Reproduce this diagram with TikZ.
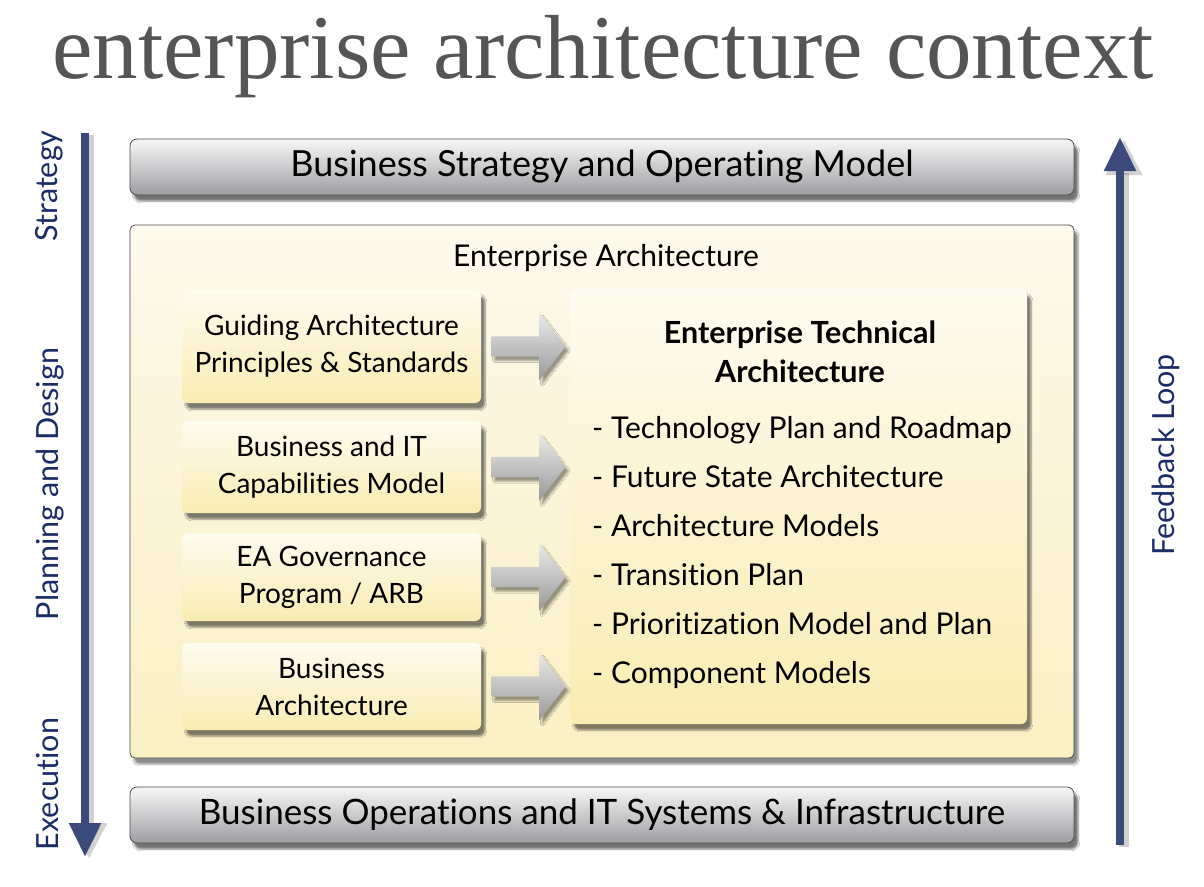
\documentclass[tikz,border=0pt]{standalone}
\usepackage{fontspec}
\setmainfont{Liberation Serif}
\newfontfamily\boxfont[Ligatures=NoCommon]{Lato}
\usepackage{tikz}
\usetikzlibrary{arrows.meta,shapes.arrows,shadows.blur,calc}

\definecolor{navy}{RGB}{58,74,122}
\definecolor{navytext}{RGB}{26,44,104}
\definecolor{titlegrey}{RGB}{85,85,85}
\definecolor{bartop}{RGB}{247,247,248}
\definecolor{barbot}{RGB}{158,158,162}
\definecolor{eatop}{RGB}{253,249,236}
\definecolor{eabot}{RGB}{250,240,196}
\definecolor{boxtop}{RGB}{254,251,240}
\definecolor{boxbot}{RGB}{249,236,178}

\begin{document}
\begin{tikzpicture}[x=1pt,y=-1pt,
		bar/.style={rounded corners=7, draw=black!70, line width=0.8pt, top color=bartop, bottom color=barbot,
			minimum width=944, minimum height=56, inner sep=0,
			blur shadow={shadow xshift=4pt, shadow yshift=-6pt, shadow opacity=55},
			font=\boxfont\fontsize{36}{40}\selectfont},
		eabox/.style={rounded corners=5, draw=black!70, line width=0.8pt, top color=eatop, bottom color=eabot,
			minimum width=944, minimum height=533, inner sep=0,
			blur shadow={shadow xshift=4pt, shadow yshift=-6pt, shadow opacity=45}},
		inbox/.style={rounded corners=6, top color=boxtop, bottom color=boxbot, minimum width=299,
			inner sep=0, align=center,
			blur shadow={shadow xshift=4pt, shadow yshift=-6pt, shadow opacity=50},
			font=\boxfont\fontsize{28}{37}\selectfont},
		blockarrow/.style={single arrow, single arrow tip angle=104, single arrow head extend=23.5pt,
			inner xsep=0, inner ysep=10pt, minimum height=74, top color=black!8, bottom color=black!40,
			blur shadow={shadow xshift=3pt, shadow yshift=-4pt, shadow opacity=40}},
		item/.style={font=\boxfont\fontsize{30}{34}\selectfont},
		sidelabel/.style={rotate=90, text=navytext, font=\boxfont\fontsize{30.5}{34}\selectfont},
		flow/.style={navy, line width=8pt, -{Triangle[width=30pt,length=34pt]}},
		flowshadow/.style={black, opacity=0.18, line width=10pt, -{Triangle[width=34pt,length=36pt]}}]
	%\draw [help lines, step=50] (0,0) grid (1204,886);
	\fill [white] (0,0) rectangle (1204,886);
	\useasboundingbox (0,0) rectangle (1204,886);

	\node [anchor=base, text=titlegrey, font=\fontsize{91}{100}\selectfont] (title) at (603,78) {enterprise architecture context};

	% side arrows
	\coordinate (planTop) at (85,133);
	\coordinate (planEnd) at (85,857);
	\coordinate (loopStart) at (1120,845);
	\coordinate (loopEnd) at (1120,137);
	\draw [flowshadow] ($(planTop)+(4,2)$) -- ($(planEnd)+(4,2)$);
	\draw [flowshadow] ($(loopStart)+(4,2)$) -- ($(loopEnd)+(4,2)$);
	\draw [flow] (planTop) -- (planEnd);
	\draw [flow] (loopStart) -- (loopEnd);
	\node [sidelabel, anchor=base] (strategy) at (57,186) {Strategy};
	\node [sidelabel, anchor=base] (planning) at (58,484) {Planning and Design};
	\node [sidelabel, anchor=base] (execution) at (58,784) {Execution};
	\node [sidelabel, anchor=base] (feedback) at (1174,455) {Feedback Loop};

	% main blocks
	\node [bar] (strat) at (602,167) {Business Strategy and Operating Model};
	\node [eabox] (ea) at (602,491.5) {};
	\node [bar, font=\boxfont\fontsize{35}{40}\selectfont] (ops) at (602,815) {Business Operations and IT Systems \& Infrastructure};
	\node [anchor=base, font=\boxfont\fontsize{30}{34}\selectfont] (eatitle) at (606,266) {Enterprise Architecture};

	\node [inbox, minimum height=113] (g1) at (331.5,346.5) {Guiding Architecture\\Principles \& Standards};
	\node [inbox, minimum height=92] (g2) at (331.5,467) {Business and IT\\Capabilities Model};
	\node [inbox, minimum height=88] (g3) at (331.5,577) {EA Governance\\Program / ARB};
	\node [inbox, minimum height=87] (g4) at (331.5,686.5) {Business\\Architecture};

	\node [inbox, minimum width=457, minimum height=435] (eta) at (798.5,506.5) {};
	\node [anchor=base, font=\boxfont\bfseries\fontsize{30.5}{34}\selectfont] (eta1) at (800,343) {Enterprise Technical};
	\node [anchor=base, font=\boxfont\bfseries\fontsize{30.5}{34}\selectfont] (eta2) at (800,382) {Architecture};
	\foreach \t [count=\i] in {Technology Plan and Roadmap, Future State Architecture, Architecture Models,
			Transition Plan, Prioritization Model and Plan, Component Models}
		\node [item, anchor=base west, inner sep=0] (item\i) at (592,{438+49*(\i-1)}) {- \t};

	% block arrows into the technical architecture
	\foreach \i in {1,...,4}
		\node [blockarrow, anchor=tip] (arr\i) at ($(eta.west |- g\i.east)+(-4,0)$) {};
\end{tikzpicture}
\end{document}
